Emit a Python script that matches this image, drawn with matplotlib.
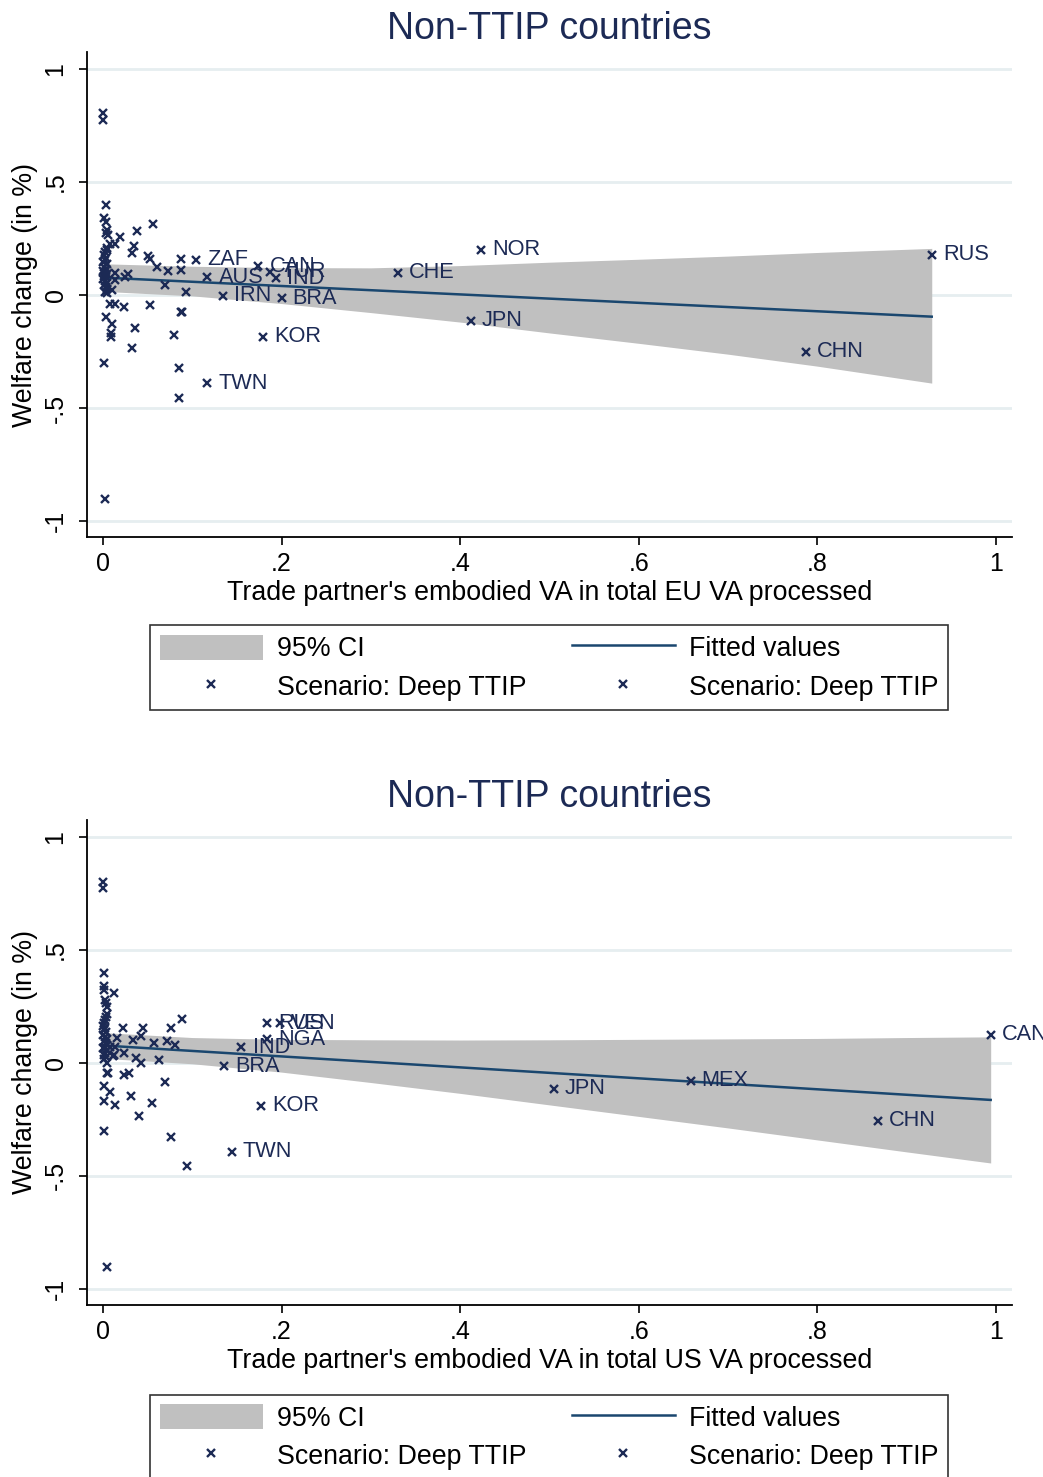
import matplotlib
matplotlib.use("Agg")
import matplotlib.pyplot as plt
from matplotlib.patches import Patch
from matplotlib.lines import Line2D

plt.rcParams['font.family'] = ['Liberation Sans', 'DejaVu Sans']

navy = "#1c2a55"
fitcol = "#1a476f"
bandcol = "#c0c0c0"
gridcol = "#e6eef0"

# EU panel: unlabelled countries
eu_x = [0.000, 0.000, 0.003, 0.001, 0.003, 0.004, 0.003, 0.006, 0.005, 0.004,
        0.002, 0.001, 0.003, 0.002, 0.000, 0.004, 0.001, 0.003, 0.000, 0.002,
        0.004, 0.001, 0.003, 0.000, 0.002, 0.004, 0.001, 0.003, 0.005, 0.002,
        0.005, 0.003, 0.0015, 0.002,
        0.056, 0.038, 0.019, 0.014, 0.035, 0.008, 0.032, 0.050, 0.053, 0.087,
        0.060, 0.073, 0.087, 0.070, 0.093, 0.053, 0.036, 0.032, 0.024, 0.013,
        0.008, 0.010, 0.009, 0.009, 0.014, 0.014, 0.025, 0.028, 0.010, 0.087,
        0.089, 0.079, 0.085, 0.085]
eu_y = [0.804, 0.774, 0.397, 0.340, 0.325, 0.288, 0.273, 0.265, 0.210, 0.200,
        0.190, 0.175, 0.165, 0.155, 0.145, 0.135, 0.125, 0.115, 0.108, 0.100,
        0.092, 0.085, 0.078, 0.070, 0.062, 0.055, 0.045, 0.035, 0.025, 0.015,
        0.007, -0.099, -0.300, -0.904,
        0.313, 0.283, 0.258, 0.226, 0.217, 0.225, 0.184, 0.173, 0.158, 0.158,
        0.125, 0.106, 0.110, 0.044, 0.015, -0.044, -0.145, -0.236, -0.052, -0.040,
        -0.040, -0.128, -0.168, -0.184, 0.099, 0.066, 0.081, 0.093, 0.022, -0.077,
        -0.077, -0.177, -0.325, -0.454]

# EU panel: labelled countries
eu_lab = ["ZAF", "CAN", "TUR", "AUS", "IND", "IRN", "BRA", "KOR", "TWN",
          "NOR", "CHE", "JPN", "CHN", "RUS"]
eu_lab_x = [0.104, 0.174, 0.187, 0.117, 0.194, 0.134, 0.200, 0.179, 0.117,
            0.423, 0.330, 0.412, 0.787, 0.928]
eu_lab_y = [0.155, 0.126, 0.103, 0.078, 0.074, -0.003, -0.015, -0.184, -0.391,
            0.199, 0.099, -0.114, -0.252, 0.177]

# EU panel: fitted line and 95% band
eu_fit_x = [0.0, 0.928]
eu_fit_y = [0.077, -0.096]
eu_ci_x = [0.0, 0.1, 0.2, 0.3, 0.4, 0.5, 0.6, 0.7, 0.8, 0.928]
eu_ci_hi = [0.138, 0.127, 0.121, 0.120, 0.130, 0.145, 0.158, 0.172, 0.188, 0.206]
eu_ci_lo = [0.016, -0.004, -0.038, -0.078, -0.120, -0.168, -0.214, -0.262, -0.315, -0.390]

# US panel: unlabelled countries
us_x = [0.000, 0.000, 0.001, 0.001, 0.001, 0.012, 0.002, 0.003, 0.004, 0.005,
        0.003, 0.002, 0.001, 0.000, 0.002, 0.001, 0.003, 0.000, 0.002, 0.004,
        0.001, 0.003, 0.005, 0.002, 0.000, 0.004, 0.002, 0.001, 0.003, 0.001,
        0.004, 0.004, 0.006, 0.001, 0.008, 0.001, 0.013, 0.001, 0.004,
        0.089, 0.022, 0.045, 0.076, 0.043, 0.016, 0.034, 0.057, 0.072, 0.081,
        0.063, 0.043, 0.037, 0.024, 0.011, 0.069, 0.055, 0.040, 0.031, 0.024,
        0.029, 0.076, 0.094, 0.008, 0.013, 0.012]
us_y = [0.802, 0.773, 0.397, 0.338, 0.323, 0.311, 0.279, 0.265, 0.249, 0.217,
        0.205, 0.190, 0.176, 0.165, 0.155, 0.145, 0.135, 0.125, 0.115, 0.105,
        0.095, 0.088, 0.080, 0.072, 0.064, 0.055, 0.045, 0.035, 0.025, 0.015,
        -0.002, -0.046, -0.046, -0.102, -0.131, -0.167, -0.186, -0.301, -0.904,
        0.196, 0.153, 0.153, 0.156, 0.121, 0.110, 0.099, 0.087, 0.097, 0.077,
        0.013, -0.002, 0.021, 0.043, 0.031, -0.083, -0.178, -0.237, -0.146, -0.053,
        -0.046, -0.326, -0.456, 0.070, 0.070, 0.035]

# US panel: labelled countries
us_lab = ["RUS", "VEN", "NGA", "IND", "BRA", "KOR", "TWN", "JPN", "MEX", "CHN", "CAN"]
us_lab_x = [0.184, 0.198, 0.184, 0.155, 0.136, 0.177, 0.144, 0.505, 0.658, 0.868, 0.994]
us_lab_y = [0.176, 0.176, 0.105, 0.070, -0.016, -0.190, -0.394, -0.115, -0.080, -0.257, 0.124]

# US panel: fitted line and 95% band
us_fit_x = [0.0, 0.994]
us_fit_y = [0.077, -0.164]
us_ci_x = [0.0, 0.1, 0.2, 0.3, 0.4, 0.5, 0.6, 0.7, 0.8, 0.9, 0.994]
us_ci_hi = [0.134, 0.112, 0.104, 0.102, 0.101, 0.102, 0.104, 0.106, 0.108, 0.112, 0.115]
us_ci_lo = [0.020, -0.004, -0.041, -0.087, -0.135, -0.186, -0.237, -0.288, -0.341, -0.394, -0.443]

xticks = [0, 0.2, 0.4, 0.6, 0.8, 1]
xticklabels = ["0", ".2", ".4", ".6", ".8", "1"]
yticks = [-1, -0.5, 0, 0.5, 1]
yticklabels = ["-1", "-.5", "0", ".5", "1"]

mk = dict(ls="none", marker="x", ms=5.5, mew=1.7, color=navy)


def panel(ax, px, py, lab, lx, ly, fx, fy, cx, chi, clo, xlabel):
    ax.fill_between(cx, clo, chi, color=bandcol, lw=0, zorder=1)
    ax.plot(fx, fy, color=fitcol, lw=1.8, zorder=2)
    ax.plot(px, py, zorder=3, **mk)
    ax.plot(lx, ly, zorder=3, **mk)
    for t, x, y in zip(lab, lx, ly):
        ax.annotate(t, (x, y), xytext=(8, 0), textcoords="offset points",
                    va="center", ha="left", fontsize=15.7, color=navy,
                    annotation_clip=False, zorder=4)
    ax.set_xlim(-0.0179, 1.0179)
    ax.set_ylim(-1.071, 1.075)
    ax.set_xticks(xticks)
    ax.set_xticklabels(xticklabels)
    ax.set_yticks(yticks)
    ax.set_yticklabels(yticklabels, rotation=90, va="center")
    ax.tick_params(labelsize=18, length=6, width=1.2, color="black")
    ax.tick_params(axis="x", pad=5)
    ax.tick_params(axis="y", pad=8)
    ax.grid(axis="y", color=gridcol, lw=2)
    ax.set_axisbelow(True)
    for s in ["top", "right"]:
        ax.spines[s].set_visible(False)
    for s in ["left", "bottom"]:
        ax.spines[s].set_linewidth(1.3)
    ax.set_xlabel(xlabel, fontsize=19.3, labelpad=3)
    ax.set_ylabel("Welfare change (in %)", fontsize=19.3, labelpad=4)
    ax.set_title("Non-TTIP countries", fontsize=27, color=navy, pad=9)


fig = plt.figure(figsize=(10.43, 14.77), dpi=100)
ax1 = fig.add_axes([0.0834, 0.6364, 0.8869, 0.3284])
ax2 = fig.add_axes([0.0834, 0.1165, 0.8869, 0.3284])

panel(ax1, eu_x, eu_y, eu_lab, eu_lab_x, eu_lab_y, eu_fit_x, eu_fit_y,
      eu_ci_x, eu_ci_hi, eu_ci_lo,
      "Trade partner's embodied VA in total EU VA processed")
panel(ax2, us_x, us_y, us_lab, us_lab_x, us_lab_y, us_fit_x, us_fit_y,
      us_ci_x, us_ci_hi, us_ci_lo,
      "Trade partner's embodied VA in total US VA processed")

handles = [Patch(facecolor=bandcol, edgecolor="none"),
           Line2D([], [], **mk),
           Line2D([], [], color=fitcol, lw=1.8),
           Line2D([], [], **mk)]
labels = ["95% CI", "Scenario: Deep TTIP", "Fitted values", "Scenario: Deep TTIP"]
for yc in [0.548, 0.027]:
    leg = fig.legend(handles, labels, loc="center", bbox_to_anchor=(0.5264, yc),
                     ncol=2, fontsize=19.3, frameon=True, fancybox=False,
                     edgecolor="black", handlelength=3.85, handleheight=1.05,
                     handletextpad=0.52, columnspacing=1.7, labelspacing=0.4,
                     borderpad=0.35)
    leg.get_frame().set_linewidth(1.2)

fig.savefig("out.png", dpi=100, facecolor="white")
